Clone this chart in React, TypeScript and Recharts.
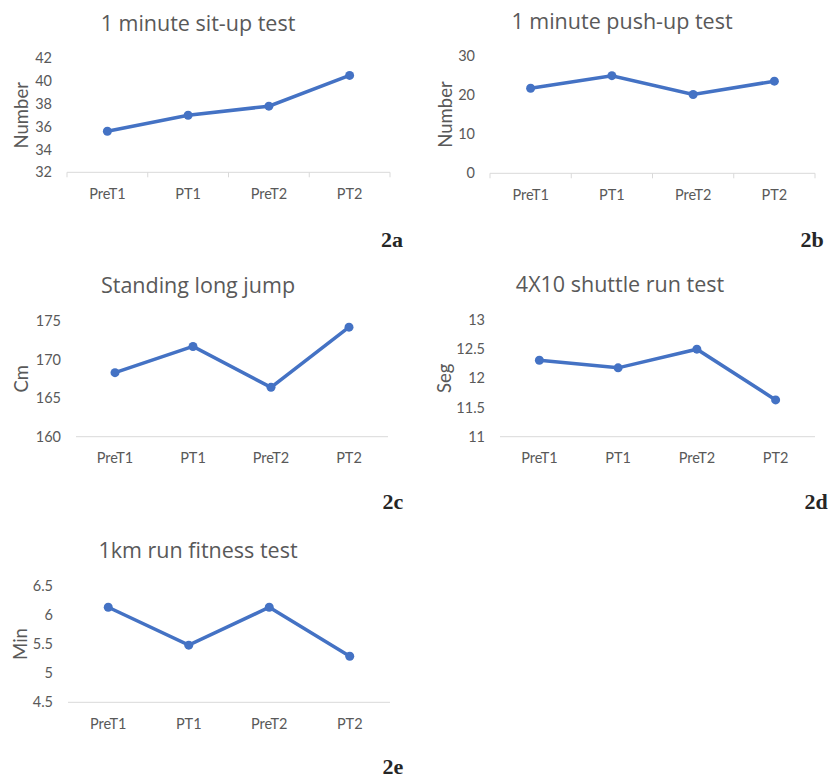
import React from "react";
import { LineChart, Line, XAxis, YAxis } from "recharts";

// test phases shared by every panel
const phases = ["PreT1", "PT1", "PreT2", "PT2"];

const sitUps = [35.6, 37.0, 37.8, 40.5];
const pushUps = [21.7, 24.9, 20.1, 23.5];
const longJump = [168.3, 171.7, 166.4, 174.2];
const shuttleRun = [12.31, 12.18, 12.5, 11.63];
const run1km = [6.13, 5.48, 6.13, 5.29];

const sitUpTicks = [32, 34, 36, 38, 40, 42];
const pushUpTicks = [0, 10, 20, 30];
const jumpTicks = [160, 165, 170, 175];
const shuttleTicks = [11, 11.5, 12, 12.5, 13];
const runTicks = [4.5, 5, 5.5, 6, 6.5];

const BLUE = "#4472C4";
const TEXT = "#595959";
const AXIS = "#d9d9d9";
const FONT = "Lato, 'Open Sans', sans-serif";
const TITLE_FONT = "'Open Sans', Lato, sans-serif";
const X_MARGIN = 16;

// category label, optionally with the small divider marks Excel draws between categories
const CatTick = (props: any) => {
  const { x, y, payload, index, visibleTicksCount, edges } = props;
  const half = payload?.offset ?? 0;
  const axisY = y - X_MARGIN;
  const last = index === (visibleTicksCount ?? phases.length) - 1;
  return (
    <g>
      {edges && <line x1={x - half} x2={x - half} y1={axisY} y2={axisY + 5} stroke={AXIS} />}
      {edges && last && <line x1={x + half} x2={x + half} y1={axisY} y2={axisY + 5} stroke={AXIS} />}
      <text x={x} y={y} dy="0.71em" textAnchor="middle" fill={TEXT} fontSize={14.5} fontFamily={FONT}>
        {payload.value}
      </text>
    </g>
  );
};

type PanelProps = {
  left: number; top: number; width: number; height: number;
  plot: { x1: number; x2: number; y1: number; y2: number };
  title: string; titleX: number; titleY: number;
  yLabel: string; labelX: number;
  values: number[]; ticks: number[];
  tag: string; tagX: number; tagY: number;
  edgeTicks?: boolean;
};

const Panel = (p: PanelProps) => {
  const data = phases.map((name, i) => ({ name, value: p.values[i] }));
  const xAxisH = 30;
  const margin = {
    top: p.plot.y1 - p.top,
    right: p.left + p.width - p.plot.x2,
    bottom: p.top + p.height - p.plot.y2 - xAxisH,
    left: 0,
  };
  return (
    <>
      <div style={{
        position: "absolute", left: p.titleX - 200, top: p.titleY - 15, width: 400,
        textAlign: "center", fontFamily: TITLE_FONT, fontSize: 21.5, lineHeight: "30px", color: TEXT,
      }}>{p.title}</div>
      <div style={{ position: "absolute", left: p.left, top: p.top }}>
        <LineChart width={p.width} height={p.height} data={data} margin={margin}>
          <XAxis dataKey="name" scale="band" height={xAxisH} tickLine={false} tickSize={0} tickMargin={X_MARGIN}
            axisLine={{ stroke: AXIS, strokeWidth: 1 }}
            tick={<CatTick edges={!!p.edgeTicks} />} interval={0} />
          <YAxis width={p.plot.x1 - p.left} domain={[p.ticks[0], p.ticks[p.ticks.length - 1]]}
            ticks={p.ticks} axisLine={false} tickLine={false} tickSize={0} tickMargin={15}
            tick={{ fill: TEXT, fontSize: 14.5, fontFamily: FONT }}
            label={{
              value: p.yLabel, angle: -90, position: "insideLeft", offset: p.labelX - p.left,
              style: { textAnchor: "middle", fill: TEXT, fontSize: 18.5, fontFamily: FONT },
            }} />
          <Line dataKey="value" stroke={BLUE} strokeWidth={3.5} isAnimationActive={false}
            dot={{ r: 4.5, fill: BLUE, stroke: BLUE, strokeWidth: 0 }} activeDot={false} />
        </LineChart>
      </div>
      <div style={{
        position: "absolute", left: p.tagX - 30, top: p.tagY - 9, width: 60, textAlign: "center",
        fontFamily: "'Liberation Serif', 'Times New Roman', serif", fontWeight: "bold",
        fontSize: 22, lineHeight: "18px", color: "#262626",
      }}>{p.tag}</div>
    </>
  );
};

export default function App() {
  return (
    <div style={{ position: "absolute", left: 0, top: 0, width: 829, height: 779, background: "#fff", overflow: "hidden" }}>
      <Panel left={0} top={0} width={410} height={260}
        plot={{ x1: 67, x2: 390, y1: 58.3, y2: 172.3 }}
        title="1 minute sit-up test" titleX={198} titleY={23} yLabel="Number" labelX={21}
        values={sitUps} ticks={sitUpTicks} tag="2a" tagX={392} tagY={240} edgeTicks />
      <Panel left={415} top={0} width={414} height={260}
        plot={{ x1: 490, x2: 815, y1: 55.7, y2: 173.3 }}
        title="1 minute push-up test" titleX={622} titleY={21} yLabel="Number" labelX={445}
        values={pushUps} ticks={pushUpTicks} tag="2b" tagX={812} tagY={240} edgeTicks />
      <Panel left={0} top={260} width={410} height={260}
        plot={{ x1: 76, x2: 388, y1: 321, y2: 436.7 }}
        title="Standing long jump" titleX={198} titleY={285} yLabel="Cm" labelX={21}
        values={longJump} ticks={jumpTicks} tag="2c" tagX={393} tagY={502} />
      <Panel left={415} top={260} width={414} height={260}
        plot={{ x1: 500, x2: 815, y1: 320, y2: 436.7 }}
        title="4X10 shuttle run test" titleX={620} titleY={284} yLabel="Seg" labelX={444}
        values={shuttleRun} ticks={shuttleTicks} tag="2d" tagX={816} tagY={502} />
      <Panel left={0} top={520} width={410} height={259}
        plot={{ x1: 68, x2: 390, y1: 585.7, y2: 702.3 }}
        title="1km run fitness test" titleX={198} titleY={550} yLabel="Min" labelX={20}
        values={run1km} ticks={runTicks} tag="2e" tagX={393} tagY={767} />
    </div>
  );
}
